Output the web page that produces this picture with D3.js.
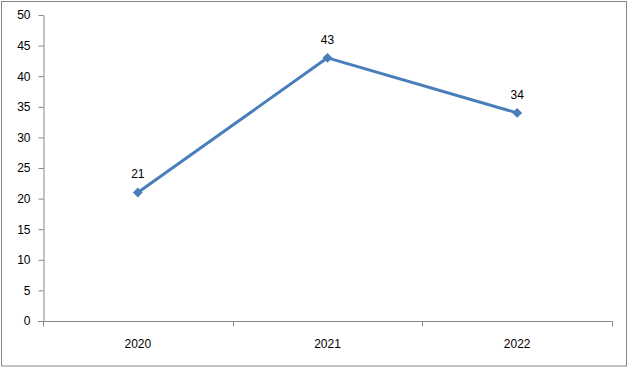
<!DOCTYPE html>
<html>
<head>
<meta charset="utf-8">
<script src="https://cdn.jsdelivr.net/npm/d3@7"></script>
<style>
    body { margin: 0; background: #fff; }
    text { font-family: "Liberation Sans", Arial, sans-serif; }
</style>
</head>
<body>
<div id="chart"></div>
<script>
const years = ["2020", "2021", "2022"];
const values = [21, 43, 34];
const yTicks = [0, 5, 10, 15, 20, 25, 30, 35, 40, 45, 50];

const config = {
    width: 629,
    height: 368,
    margin: { top: 15, left: 43, bottom: 47, right: 17 },
    lineColor: "#4a7ebb",
    axisColor: "#868686"
}

const svg = d3.select("#chart")
    .append("svg")
    .attr("width", config.width)
    .attr("height", config.height)

// outer frame
svg.append("rect")
    .attr("x", 1.5)
    .attr("y", 1.5)
    .attr("width", 625)
    .attr("height", 364.5)
    .attr("fill", "none")
    .attr("stroke", config.axisColor)
    .attr("stroke-width", 1)

const scale_x = d3.scaleBand()
    .domain(years)
    .range([config.margin.left, config.width - config.margin.right])
    .padding(0)

const scale_y = d3.scaleLinear()
    .domain([0, 50])
    .range([config.height - config.margin.bottom, config.margin.top])

// y axis
const g_axisY = svg.append("g")
    .attr("transform", `translate(${config.margin.left + 0.5}, 0)`)
    .call(d3.axisLeft(scale_y).tickValues(yTicks).tickSize(5).tickSizeOuter(0).tickPadding(8))
g_axisY.selectAll("path, line").attr("stroke", config.axisColor)
g_axisY.selectAll("text").attr("font-size", "12px").attr("fill", "#000")

// x axis with ticks at category boundaries
const g_axisX = svg.append("g")
    .attr("transform", `translate(0, ${config.height - config.margin.bottom + 0.5})`)
g_axisX.append("line")
    .attr("x1", config.margin.left - 5)
    .attr("x2", config.width - config.margin.right + 0.5)
    .attr("stroke", config.axisColor)
const bounds = years.map(d => scale_x(d)).concat([scale_x.range()[1]])
g_axisX.selectAll("line.tick")
    .data(bounds)
    .join("line")
    .attr("class", "tick")
    .attr("x1", d => Math.round(d) + 0.5)
    .attr("x2", d => Math.round(d) + 0.5)
    .attr("y1", 0)
    .attr("y2", 5)
    .attr("stroke", config.axisColor)
g_axisX.selectAll("text")
    .data(years)
    .join("text")
    .attr("x", d => scale_x(d) + scale_x.bandwidth() / 2)
    .attr("y", 26)
    .attr("text-anchor", "middle")
    .attr("font-size", "12px")
    .attr("fill", "#000")
    .text(d => d)

const cx = (d, i) => scale_x(years[i]) + scale_x.bandwidth() / 2

// line
const line = d3.line()
    .x((d, i) => cx(d, i))
    .y(d => scale_y(d))
svg.append("path")
    .datum(values)
    .attr("d", line)
    .attr("fill", "none")
    .attr("stroke", config.lineColor)
    .attr("stroke-width", 3)
    .attr("stroke-linejoin", "round")

// diamond markers
svg.append("g").selectAll("path")
    .data(values)
    .join("path")
    .attr("d", d3.symbol().type(d3.symbolDiamond2).size(62))
    .attr("transform", (d, i) => `translate(${cx(d, i)}, ${scale_y(d)})`)
    .attr("fill", config.lineColor)

// data labels
svg.append("g").selectAll("text")
    .data(values)
    .join("text")
    .attr("x", (d, i) => cx(d, i))
    .attr("y", d => scale_y(d) - 14)
    .attr("text-anchor", "middle")
    .attr("font-size", "12px")
    .attr("fill", "#000")
    .text(d => d)
</script>
</body>
</html>
